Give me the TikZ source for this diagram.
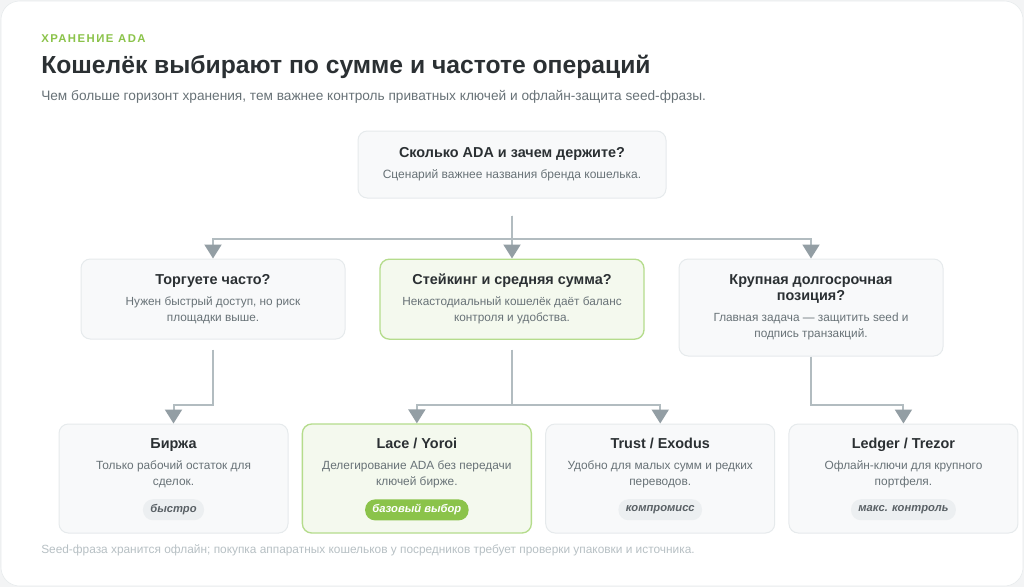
\documentclass[tikz,border=0pt]{standalone}
\usepackage{fontspec}
\setmainfont{Liberation Sans}
\usetikzlibrary{positioning, backgrounds, arrows.meta}

\definecolor{ink}{HTML}{2B3033}
\definecolor{muted}{HTML}{687277}
\definecolor{cardfill}{HTML}{F8F9FA}
\definecolor{cardline}{HTML}{E6EAEC}
\definecolor{leaf}{HTML}{8BC34A}
\definecolor{leaffill}{HTML}{F4F9EE}
\definecolor{leafline}{HTML}{B5DC8C}
\definecolor{tagfill}{HTML}{ECEFF1}
\definecolor{tagink}{HTML}{596065}
\definecolor{wire}{HTML}{B2BCC0}
\definecolor{wirehead}{HTML}{939EA4}
\definecolor{faint}{HTML}{B7C0C4}
\definecolor{pagegray}{HTML}{F3F4F5}

\newcommand{\cardtitle}[1]{{\color{ink}\bfseries\fontsize{10.8}{13}\selectfont #1}}

\begin{document}
\begin{tikzpicture}[
    x=0.75pt, y=-0.75pt,
    box/.style={rectangle, draw=cardline, line width=0.75pt, rounded corners=7pt, align=center, fill=cardfill, text=muted},
    midbox/.style={box, minimum width=198pt, minimum height=60pt, font=\fontsize{8.85}{12}\selectfont},
    lowbox/.style={box, minimum width=171.75pt, minimum height=81.75pt, font=\fontsize{8.9}{12}\selectfont},
    pick/.style={draw=leafline, fill=leaffill, line width=1pt},
    tag/.style={rectangle, rounded corners=7.5pt, fill=tagfill, text=tagink, minimum height=15.75pt, inner ysep=1pt, inner xsep=5.5pt, font=\fontsize{8.4}{10}\selectfont\bfseries\itshape},
    arrow/.style={draw=wire, line width=1.5pt, -{Triangle[width=12.75pt, length=10.5pt, color=wirehead]}}
]

% Fondo y tarjeta
\useasboundingbox (0,0) rectangle (1024,587);
\fill [pagegray] (0,0) rectangle (1024,587);
\draw [cardline, fill=white, rounded corners=14pt] (1,1) rectangle (1023,586);

% Encabezado
\node (kicker) [anchor=base west, inner sep=0, text=leaf, font=\fontsize{8.5}{10}\selectfont\bfseries\addfontfeatures{LetterSpace=13}] at (41,42.3) {ХРАНЕНИЕ ADA};
\node (headline) [anchor=base west, inner sep=0, text=ink, font=\fontsize{18.5}{22}\selectfont\bfseries] at (41,73.3) {Кошелёк выбирают по сумме и частоте операций};
\node (lede) [anchor=base west, inner sep=0, text=muted, font=\fontsize{10.25}{12}\selectfont] at (41,100) {Чем больше горизонт хранения, тем важнее контроль приватных ключей и офлайн-защита seed-фразы.};

% Pregunta central
\node (ask) [box, minimum width=231pt, minimum height=50.25pt, font=\fontsize{9}{12}\selectfont] at (512,164.5) {\cardtitle{Сколько ADA и зачем держите?}\\[4pt]Сценарий важнее названия бренда кошелька.};

% Segundo nivel
\node (stake) [midbox, pick, below=45pt of ask] {\cardtitle{Стейкинг и средняя сумма?}\\[4pt]Некастодиальный кошелёк даёт баланс\\контроля и удобства.};
\node (trade) [midbox, below=45pt of ask, xshift=-224.25pt] {\cardtitle{Торгуете часто?}\\[4pt]Нужен быстрый доступ, но риск\\площадки выше.};
\node (hold) [midbox, below=45pt of ask, xshift=224.25pt, minimum height=72.75pt] {\cardtitle{Крупная долгосрочная}\\\cardtitle{позиция?}\\[4pt]Главная задача — защитить seed и\\подпись транзакций.};

% Tercer nivel
\node (birzha) [lowbox, below=63pt of trade, xshift=-29.625pt] {\cardtitle{Биржа}\\[4pt]Только рабочий остаток для\\сделок.\\\rule[-12.75pt]{0pt}{13pt}};
\node (lace) [lowbox, pick, right=9.9pt of birzha] {\cardtitle{Lace / Yoroi}\\[4pt]Делегирование ADA без передачи\\ключей бирже.\\\rule[-12.75pt]{0pt}{13pt}};
\node (trust) [lowbox, right=9.9pt of lace] {\cardtitle{Trust / Exodus}\\[4pt]Удобно для малых сумм и редких\\переводов.\\\rule[-12.75pt]{0pt}{13pt}};
\node (ledger) [lowbox, right=9.9pt of trust] {\cardtitle{Ledger / Trezor}\\[4pt]Офлайн-ключи для крупного\\портфеля.\\\rule[-12.75pt]{0pt}{13pt}};

% Etiquetas
\node (birzhatag) [tag, above=9.75pt of birzha.south] {быстро};
\node (lacetag) [tag, fill=leaf, text=white, above=9.75pt of lace.south] {базовый выбор};
\node (trusttag) [tag, above=9.75pt of trust.south] {компромисс};
\node (ledgertag) [tag, above=9.75pt of ledger.south] {макс. контроль};

% Flechas
\draw [arrow, shorten <=12.75pt] (ask.south) -- ++(0,40) -| (trade.north);
\draw [arrow, shorten <=12.75pt] (ask.south) -- ++(0,40) -| (stake.north);
\draw [arrow, shorten <=12.75pt] (ask.south) -- ++(0,40) -| (hold.north);

\draw [arrow, shorten <=7.5pt] (trade.south) -- ++(0,65) -| (birzha.north);
\draw [arrow, shorten <=7.5pt] (stake.south) -- ++(0,65) -| (lace.north);
\draw [arrow, shorten <=7.5pt] (stake.south) -- ++(0,65) -| (trust.north);
\draw [arrow] (hold.south) -- ++(0,48) -| (ledger.north);

% Nota al pie
\node (footnote) [anchor=base west, inner sep=0, text=faint, font=\fontsize{8.9}{11}\selectfont] at (41,553) {Seed-фраза хранится офлайн; покупка аппаратных кошельков у посредников требует проверки упаковки и источника.};

\end{tikzpicture}
\end{document}
